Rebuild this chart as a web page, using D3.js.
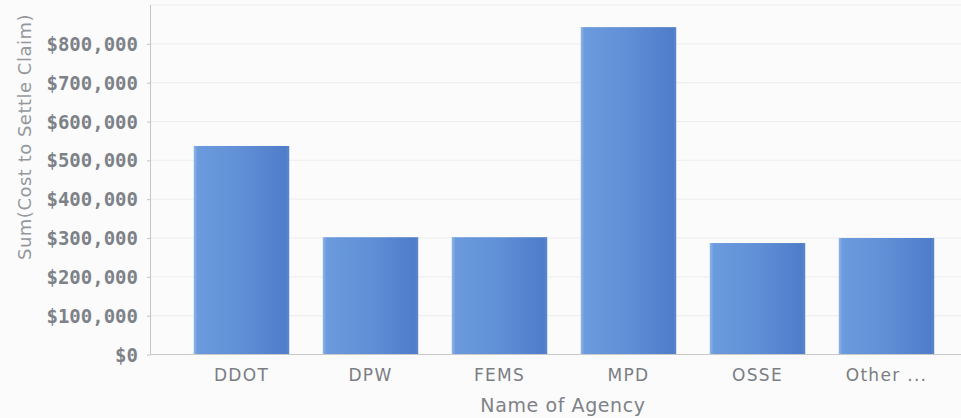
<!DOCTYPE html>
<html><head><meta charset="utf-8">
<script src="https://cdn.jsdelivr.net/npm/d3@7/dist/d3.min.js"></script>
<style>
html,body{margin:0;padding:0;background:#fbfbfb;}
svg{display:block;}
</style></head>
<body><svg id="c" width="961" height="418"></svg>
<script>
const agencies = ["DDOT","DPW","FEMS","MPD","OSSE","Other ..."];
const costs = [537000, 302000, 302000, 843000, 287000, 300000];
const yTicks = [0,100000,200000,300000,400000,500000,600000,700000,800000];
const yTitle = "Sum(Cost to Settle Claim)";
const xTitle = "Name of Agency";

const svg = d3.select("#c");
const left = 151, bottom = 354.5;
const x = d3.scaleBand().domain(agencies).range([177, 951]).paddingInner(0.26).paddingOuter(0.13);
const y = d3.scaleLinear().domain([0, 900000]).range([bottom, 5]);

const defs = svg.append("defs");
const g = defs.append("linearGradient").attr("id","bar").attr("x1","0").attr("x2","1").attr("y1","0").attr("y2","0");
g.append("stop").attr("offset","0").attr("stop-color","#8fb4e8");
g.append("stop").attr("offset","0.04").attr("stop-color","#6b9bdd");
g.append("stop").attr("offset","0.5").attr("stop-color","#608fd6");
g.append("stop").attr("offset","0.96").attr("stop-color","#4f7dc9");
g.append("stop").attr("offset","1").attr("stop-color","#5a86cd");

// gridlines
svg.append("g").selectAll("line").data(yTicks.slice(1).concat([900000])).join("line")
  .attr("x1", left).attr("x2", 961)
  .attr("y1", d => y(d)).attr("y2", d => y(d))
  .attr("stroke", "#ededed").attr("stroke-width", 1);

// bars
svg.append("g").selectAll("rect").data(agencies).join("rect")
  .attr("x", d => x(d)).attr("width", x.bandwidth())
  .attr("y", (d,i) => y(costs[i])).attr("height", (d,i) => bottom - y(costs[i]))
  .attr("fill", "url(#bar)");

// y axis
const ya = svg.append("g").attr("transform", `translate(${left},0)`)
  .call(d3.axisLeft(y).tickValues(yTicks).tickSize(4).tickPadding(9)
    .tickFormat(d => "$" + d3.format(",")(d)));
ya.select(".domain").attr("stroke","#c4c4c4").attr("d", `M-0.5,5V${bottom}`);
ya.selectAll(".tick line").attr("stroke","#c4c4c4");
ya.selectAll("text").attr("fill","#7d8288").attr("font-family","DejaVu Sans Mono")
  .attr("font-size","19px").attr("font-weight","bold").attr("dy","0.35em");

// baseline
svg.append("line").attr("x1", left).attr("x2", 961).attr("y1", bottom).attr("y2", bottom)
  .attr("stroke","#c8c8c8");

// x labels
svg.append("g").selectAll("text").data(agencies).join("text")
  .attr("x", d => x(d) + x.bandwidth()/2).attr("y", 381)
  .attr("text-anchor","middle").attr("fill","#7a7e83")
  .attr("font-family","DejaVu Sans").attr("font-size","17px").attr("letter-spacing","1.3px")
  .text(d => d);

svg.append("text").attr("x", 563).attr("y", 412).attr("text-anchor","middle")
  .attr("fill","#7e8288").attr("font-family","DejaVu Sans").attr("font-size","19px")
  .attr("letter-spacing","0.6px").text(xTitle);

svg.append("text").attr("transform","translate(31,137) rotate(-90)").attr("text-anchor","middle")
  .attr("fill","#94989d").attr("font-family","DejaVu Sans").attr("font-size","18px")
  .attr("letter-spacing","0.5px").text(yTitle);
</script></body></html>
